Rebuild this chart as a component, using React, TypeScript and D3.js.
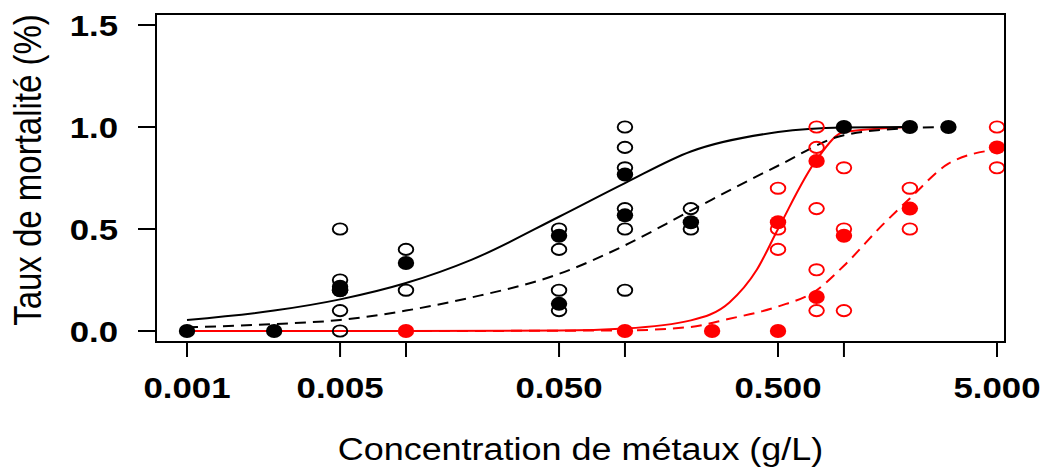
import React from "react";
import * as d3 from "d3";

// ---- data ----
const xTicks = [0.001, 0.005, 0.01, 0.05, 0.1, 0.5, 1, 5];
const xTickLabels = ["0.001", "0.005", "", "0.050", "", "0.500", "", "5.000"];
const yTicks = [0, 0.5, 1, 1.5];
const yTickLabels = ["0.0", "0.5", "1.0", "1.5"];

// black observations (open = replicates, filled = means)
const blackOpenX = [0.005, 0.005, 0.005, 0.005, 0.005, 0.01, 0.01, 0.05, 0.05, 0.05, 0.05, 0.1, 0.1, 0.1, 0.1, 0.1, 0.1, 0.2, 0.2];
const blackOpenY = [0.5, 0.25, 0.2, 0.1, 0.0, 0.4, 0.2, 0.5, 0.4, 0.2, 0.1, 1.0, 0.9, 0.8, 0.6, 0.5, 0.2, 0.6, 0.5];
const blackFilledX = [0.001, 0.0025, 0.005, 0.005, 0.01, 0.05, 0.05, 0.1, 0.1, 0.2, 1, 2, 3];
const blackFilledY = [0, 0, 0.2, 0.217, 0.333, 0.467, 0.133, 0.767, 0.567, 0.533, 1, 1, 1];

// red observations
const redOpenX = [0.5, 0.5, 0.5, 0.75, 0.75, 0.75, 0.75, 0.75, 1, 1, 1, 2, 2, 5, 5];
const redOpenY = [0.7, 0.5, 0.4, 1.0, 0.9, 0.6, 0.3, 0.1, 0.8, 0.5, 0.1, 0.7, 0.5, 1.0, 0.8];
const redFilledX = [0.01, 0.1, 0.25, 0.5, 0.5, 0.75, 0.75, 1, 2, 5];
const redFilledY = [0, 0, 0, 0, 0.533, 0.833, 0.167, 0.467, 0.6, 0.9];

// fitted curves
const blackSolidX = [0.001, 0.0025, 0.005, 0.01, 0.02, 0.05, 0.1, 0.2, 0.5, 1, 2];
const blackSolidY = [0.054, 0.1, 0.155, 0.235, 0.35, 0.56, 0.725, 0.88, 0.975, 0.997, 1.0];
const blackDashX = [0.001, 0.0025, 0.005, 0.01, 0.02, 0.05, 0.1, 0.2, 0.5, 1, 2, 3];
const blackDashY = [0.018, 0.034, 0.054, 0.1, 0.165, 0.28, 0.42, 0.59, 0.81, 0.96, 0.995, 1.0];
const redSolidX = [0.001, 0.01, 0.05, 0.1, 0.2, 0.3, 0.4, 0.5, 0.75, 1, 2];
const redSolidY = [0, 0, 0.002, 0.012, 0.052, 0.14, 0.3, 0.5, 0.84, 0.975, 1.0];
const redDashX = [0.001, 0.01, 0.1, 0.2, 0.3, 0.5, 0.75, 1, 1.5, 2, 3, 5];
const redDashY = [0, 0, 0.003, 0.02, 0.06, 0.12, 0.2, 0.32, 0.52, 0.65, 0.82, 0.89];

// ---- layout ----
const W = 1043;
const H = 467;
const SX = 1.16; // horizontal stretch of the original raster
const FONT = "'Liberation Sans', Arial, Helvetica, sans-serif";
const box = { left: 156, right: 1005, top: 14, bottom: 342 };

export default function App() {
  const x = d3.scaleLog().domain([0.001, 5]).range([187, 997]);
  const y = d3.scaleLinear().domain([0, 1.5]).range([331, 25]);

  const line = (xs: number[], ys: number[]) =>
    d3
      .line<number>()
      .x((_, i) => x(xs[i]))
      .y((d) => y(d))
      .curve(d3.curveMonotoneX)(ys) || "";

  const openPts = (xs: number[], ys: number[], col: string) =>
    xs.map((d, i) => (
      <ellipse key={`o${col}${i}`} cx={x(d)} cy={y(ys[i])} rx={7.3} ry={5.6} fill="none" stroke={col} strokeWidth={1.9} />
    ));
  const filledPts = (xs: number[], ys: number[], col: string) =>
    xs.map((d, i) => (
      <ellipse key={`f${col}${i}`} cx={x(d)} cy={y(ys[i])} rx={8.2} ry={7} fill={col} stroke="none" />
    ));

  const txt = (
    key: string,
    tx: number,
    ty: number,
    s: string,
    anchor: string,
    size: number,
    weight: string,
    rot = 0
  ) => (
    <text
      key={key}
      transform={`translate(${tx},${ty}) scale(${SX},1)${rot ? ` rotate(${rot})` : ""}`}
      textAnchor={anchor as any}
      fontSize={size}
      fontWeight={weight}
      fontFamily={FONT}
      fill="#000"
    >
      {s}
    </text>
  );

  return (
    <svg width={W} height={H} style={{ position: "absolute", left: 0, top: 0, background: "#fff" }}>
      <rect x={0} y={0} width={W} height={H} fill="#fff" />
      {/* curves */}
      <path d={line(redSolidX, redSolidY)} fill="none" stroke="#ff0000" strokeWidth={2} />
      <path d={line(redDashX, redDashY)} fill="none" stroke="#ff0000" strokeWidth={2} strokeDasharray="11,7" />
      <path d={line(blackSolidX, blackSolidY)} fill="none" stroke="#000" strokeWidth={2} />
      <path d={line(blackDashX, blackDashY)} fill="none" stroke="#000" strokeWidth={2} strokeDasharray="11,7" />
      {/* points */}
      {openPts(redOpenX, redOpenY, "#ff0000")}
      {filledPts(redFilledX, redFilledY, "#ff0000")}
      {openPts(blackOpenX, blackOpenY, "#000")}
      {filledPts(blackFilledX, blackFilledY, "#000")}
      {/* box */}
      <rect
        x={box.left}
        y={box.top}
        width={box.right - box.left}
        height={box.bottom - box.top}
        fill="none"
        stroke="#000"
        strokeWidth={2}
      />
      {/* x axis */}
      {xTicks.map((t, i) => (
        <line key={`xt${i}`} x1={x(t)} x2={x(t)} y1={box.bottom} y2={box.bottom + 15} stroke="#000" strokeWidth={2} />
      ))}
      {xTicks.map((t, i) =>
        xTickLabels[i] ? txt(`xl${i}`, x(t), 398, xTickLabels[i], "middle", 30, "bold") : null
      )}
      {/* y axis */}
      {yTicks.map((t, i) => (
        <line key={`yt${i}`} x1={box.left - 18} x2={box.left} y1={y(t)} y2={y(t)} stroke="#000" strokeWidth={2} />
      ))}
      {yTicks.map((t, i) => txt(`yl${i}`, 118, y(t) + 11, yTickLabels[i], "end", 30, "bold"))}
      {/* titles */}
      {txt("xtitle", (box.left + box.right) / 2, 460, "Concentration de métaux (g/L)", "middle", 31, "normal")}
      {txt("ytitle", 41, 170, "Taux de mortalité (%)", "middle", 33, "normal", -90)}
    </svg>
  );
}
